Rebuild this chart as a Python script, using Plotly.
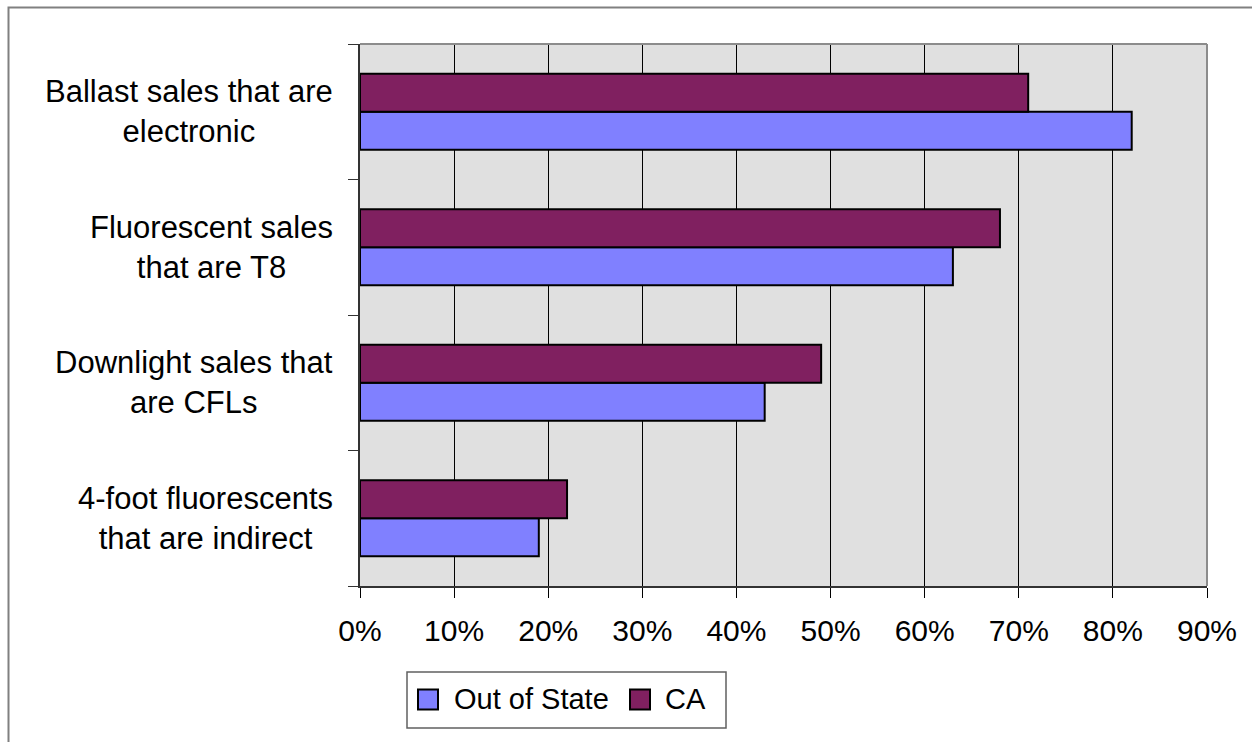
import plotly.graph_objects as go

# Category labels, top to bottom
categories = [
    "Ballast sales that are<br>electronic",
    "Fluorescent sales<br>that are T8",
    "Downlight sales that<br>are CFLs",
    "4-foot fluorescents<br>that are indirect",
]
series_names = ["Out of State", "CA"]
out_of_state = [82, 63, 43, 19]   # percent
ca = [71, 68, 49, 22]             # percent
x_ticks = [0, 10, 20, 30, 40, 50, 60, 70, 80, 90]
x_tick_labels = [f"{v}%" for v in x_ticks]

colors = ["#8080FF", "#802060"]

W, H = 1252, 742
L, R, T, B = 360, 45, 44, 156
PW, PH = W - L - R, H - T - B


def px(x):
    return (x - L) / PW


def py(y):
    return (H - B - y) / PH


FONT = "Liberation Sans, Arial, sans-serif"

fig = go.Figure()
for name, vals, col in zip(series_names, [out_of_state, ca], colors):
    fig.add_trace(go.Bar(
        y=categories, x=vals, name=name, orientation="h",
        marker=dict(color=col, line=dict(color="black", width=2)),
        showlegend=False,
    ))

shapes = [
    # outer chart border
    dict(type="rect", xref="paper", yref="paper", x0=px(8.5), x1=px(1300),
         y0=py(800), y1=py(7.5), line=dict(color="#808080", width=2)),
    # top and right edges of the plot area
    dict(type="line", xref="paper", yref="paper", x0=0, x1=1, y0=1, y1=1,
         line=dict(color="#8c8c8c", width=2)),
    dict(type="line", xref="paper", yref="paper", x0=1, x1=1, y0=0, y1=1,
         line=dict(color="#8c8c8c", width=2)),
    # legend box
    dict(type="rect", xref="paper", yref="paper", x0=px(407), x1=px(726),
         y0=py(728), y1=py(672), line=dict(color="#606060", width=1.5),
         fillcolor="white"),
]
annotations = []

# legend entries
leg_sq_x = [418, 630]
leg_txt_x = [452, 663]
for name, col, sx, tx in zip(series_names, colors, leg_sq_x, leg_txt_x):
    shapes.append(dict(type="rect", xref="paper", yref="paper",
                       x0=px(sx), x1=px(sx + 20), y0=py(709.5), y1=py(689.5),
                       fillcolor=col, line=dict(color="black", width=2)))
    annotations.append(dict(xref="paper", yref="paper", x=px(tx), y=py(699.5),
                            xanchor="left", yanchor="middle", showarrow=False,
                            text=name, font=dict(family=FONT, size=29, color="black")))

# category labels, centred lines
for cat in categories:
    annotations.append(dict(xref="paper", yref="y", x=px(335), y=cat,
                            xanchor="right", yanchor="middle", align="center",
                            showarrow=False, text=cat,
                            font=dict(family=FONT, size=31, color="black")))

fig.update_layout(
    width=W, height=H,
    margin=dict(l=L, r=R, t=T, b=B, pad=0),
    paper_bgcolor="white", plot_bgcolor="#E0E0E0",
    barmode="group", bargap=0.44, bargroupgap=0,
    showlegend=False,
    font=dict(family=FONT, size=30, color="black"),
    shapes=shapes, annotations=annotations,
    xaxis=dict(range=[0, 90], tickvals=x_ticks, ticktext=x_tick_labels,
               showgrid=True, gridcolor="black", gridwidth=1,
               ticks="outside", ticklen=10, tickcolor="black", tickwidth=1,
               ticklabelstandoff=7,
               showline=True, linecolor="#333333", linewidth=2,
               zeroline=False, tickfont=dict(family=FONT, size=30, color="black")),
    yaxis=dict(categoryorder="array", categoryarray=list(reversed(categories)),
               showgrid=False, showticklabels=False, tickson="boundaries",
               ticks="outside", ticklen=10, tickcolor="#333333", tickwidth=1,
               showline=True, linecolor="#333333", linewidth=2, zeroline=False),
)

fig.write_html("out.html")
